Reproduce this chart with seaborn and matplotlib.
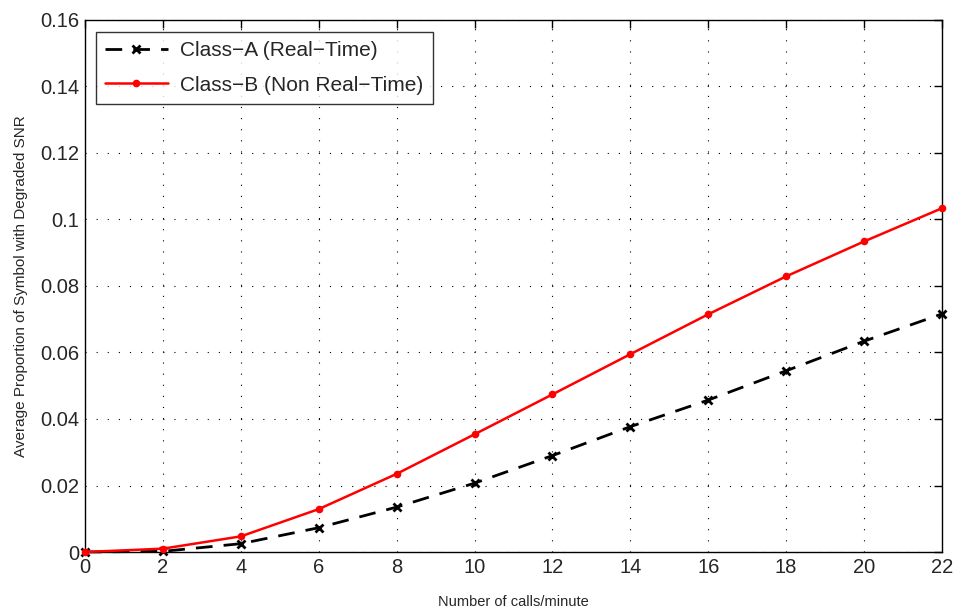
import matplotlib
matplotlib.use("Agg")
import matplotlib.pyplot as plt
import seaborn as sns
import pandas as pd
import numpy as np

calls = [0, 2, 4, 6, 8, 10, 12, 14, 16, 18, 20, 22]
class_a = [0.0, 0.0002, 0.0025, 0.0073, 0.0135, 0.0207, 0.0290, 0.0377, 0.0457, 0.0545, 0.0634, 0.0716]
class_b = [0.0, 0.0010, 0.0047, 0.0129, 0.0235, 0.0354, 0.0474, 0.0595, 0.0715, 0.0829, 0.0934, 0.1034]
label_a = "Class\u2212A (Real\u2212Time)"
label_b = "Class\u2212B (Non Real\u2212Time)"
xticks = list(range(0, 23, 2))
yticks = [0, 0.02, 0.04, 0.06, 0.08, 0.1, 0.12, 0.14, 0.16]
ytick_labels = ["0", "0.02", "0.04", "0.06", "0.08", "0.1", "0.12", "0.14", "0.16"]

sns.set_style("white")
plt.rcParams['font.family'] = ['Liberation Sans', 'DejaVu Sans']
plt.rcParams['xtick.direction'] = 'in'
plt.rcParams['ytick.direction'] = 'in'

df = pd.DataFrame({
    "calls": calls * 2,
    "value": class_a + class_b,
    "series": [label_a] * len(calls) + [label_b] * len(calls),
})

fig = plt.figure(figsize=(9.58, 6.13), dpi=100)
ax = fig.add_axes([85/958, 1-552/613, (942-85)/958, (552-20)/613])

sns.lineplot(data=df[df.series == label_a], x="calls", y="value", ax=ax,
             color="black", linestyle=(0, (6, 4)), linewidth=2,
             marker="x", markersize=6, markeredgewidth=2,
             markeredgecolor="black", markerfacecolor="black", label=label_a,
             clip_on=False, zorder=3)
sns.lineplot(data=df[df.series == label_b], x="calls", y="value", ax=ax,
             color="#ff0000", linestyle="-", linewidth=1.8,
             marker="o", markersize=5.5, markeredgewidth=0,
             markeredgecolor="#ff0000", markerfacecolor="#ff0000", label=label_b,
             clip_on=False, zorder=4)

ax.set_xlim(0, 22)
ax.set_ylim(0, 0.16)
ax.set_xticks(xticks)
ax.set_xticklabels([str(t) for t in xticks], fontsize=14.5)
ax.set_yticks(yticks)
ax.set_yticklabels(ytick_labels, fontsize=14.5)
ax.tick_params(axis='both', which='both', top=True, right=True, length=6, width=1, color='black', pad=4)
ax.grid(True, linestyle=(0, (1, 9)), color='black', linewidth=0.8)
for s in ax.spines.values():
    s.set_visible(True)
    s.set_color('black')
    s.set_linewidth(1)

ax.set_xlabel("Number of calls/minute", fontsize=10.5, labelpad=13)
ax.set_ylabel("Average Proportion of Symbol with Degraded SNR", fontsize=11, labelpad=9)

leg = ax.legend(loc="upper left", bbox_to_anchor=(0.0125, 0.978), fontsize=15,
                frameon=True, fancybox=False, edgecolor='black',
                handlelength=3.0, borderpad=0.45, labelspacing=0.75,
                handletextpad=0.6, borderaxespad=0)
leg.get_frame().set_linewidth(1)
leg.set_zorder(10)

fig.savefig("out.png", dpi=100)
